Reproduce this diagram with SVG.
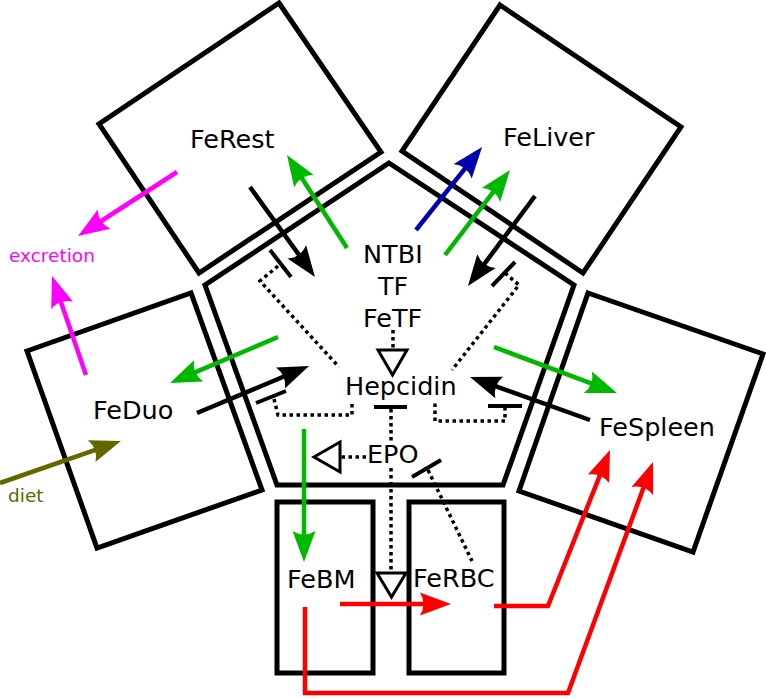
<svg xmlns="http://www.w3.org/2000/svg" width="766" height="699" viewBox="0 0 766 699">
<style>
.box{fill:none;stroke:#000;stroke-width:5;stroke-linejoin:miter}
.lbl{font-family:"DejaVu Sans",sans-serif;font-size:25.5px;fill:#000}
.small{font-family:"DejaVu Sans",sans-serif;font-size:18.5px}
.flow{fill:none;stroke-width:4.5}
.bk{stroke:#000}
.gr{stroke:#00b800}
.rd{stroke:#ff0000}
.mg{stroke:#ff00ff}
.bl{stroke:#0000b0}
.ol{stroke:#666600}
.dot{fill:none;stroke:#000;stroke-width:3.5;stroke-dasharray:3.5,3.5}
.bar{fill:none;stroke:#000;stroke-width:4}
.tri{fill:#fff;stroke:#000;stroke-width:3;stroke-linejoin:miter}
</style>
<defs>
<marker id="hk" markerUnits="userSpaceOnUse" viewBox="-32 -13 34 26" refX="-24" refY="0" markerWidth="34" markerHeight="26" orient="auto" overflow="visible"><path d="M0,0 L-31,-11.5 Q-24,0 -31,11.5 Z" fill="#000"/></marker>
<marker id="hg" markerUnits="userSpaceOnUse" viewBox="-32 -13 34 26" refX="-24" refY="0" markerWidth="34" markerHeight="26" orient="auto" overflow="visible"><path d="M0,0 L-31,-11.5 Q-24,0 -31,11.5 Z" fill="#00b800"/></marker>
<marker id="hr" markerUnits="userSpaceOnUse" viewBox="-32 -13 34 26" refX="-24" refY="0" markerWidth="34" markerHeight="26" orient="auto" overflow="visible"><path d="M0,0 L-31,-11.5 Q-24,0 -31,11.5 Z" fill="#ff0000"/></marker>
<marker id="hm" markerUnits="userSpaceOnUse" viewBox="-32 -13 34 26" refX="-24" refY="0" markerWidth="34" markerHeight="26" orient="auto" overflow="visible"><path d="M0,0 L-31,-11.5 Q-24,0 -31,11.5 Z" fill="#ff00ff"/></marker>
<marker id="hb" markerUnits="userSpaceOnUse" viewBox="-32 -13 34 26" refX="-24" refY="0" markerWidth="34" markerHeight="26" orient="auto" overflow="visible"><path d="M0,0 L-31,-11.5 Q-24,0 -31,11.5 Z" fill="#0000b0"/></marker>
<marker id="ho" markerUnits="userSpaceOnUse" viewBox="-32 -13 34 26" refX="-24" refY="0" markerWidth="34" markerHeight="26" orient="auto" overflow="visible"><path d="M0,0 L-31,-11.5 Q-24,0 -31,11.5 Z" fill="#666600"/></marker>
</defs>
<rect width="766" height="699" fill="#fff"/>

<g id="plasma">
<polygon class="box" points="389,163 574,285 503,485 277,485 205,285"/>
<text class="lbl" x="363" y="263">NTBI</text>
<text class="lbl" x="378" y="295">TF</text>
<text class="lbl" x="363" y="327">FeTF</text>
</g>
<g id="Hepcidin"><text class="lbl" x="345" y="395">Hepcidin</text></g>
<g id="EPO"><text class="lbl" x="367" y="463">EPO</text></g>
<g id="FeRest">
<polygon class="box" points="279,3 381,152 199,273 99,124"/>
<text class="lbl" x="190" y="148">FeRest</text>
</g>
<g id="FeLiver">
<polygon class="box" points="500,5 681,127 583,273 402,151"/>
<text class="lbl" x="503" y="146">FeLiver</text>
</g>
<g id="FeDuo">
<polygon class="box" points="27,351 191,293 262,490 97,548"/>
<text class="lbl" x="93" y="419">FeDuo</text>
</g>
<g id="FeSpleen">
<polygon class="box" points="588,293 763,354 693,552 519,491"/>
<text class="lbl" x="599" y="436">FeSpleen</text>
</g>
<g id="FeBM">
<rect class="box" x="277" y="502" width="96" height="171"/>
<text class="lbl" x="287" y="588">FeBM</text>
</g>
<g id="FeRBC">
<rect class="box" x="409" y="502" width="95" height="171"/>
<text class="lbl" x="413" y="587">FeRBC</text>
</g>
<g id="excretion"><text class="small" x="9" y="262" fill="#ff00ff">excretion</text></g>
<g id="diet"><text class="small" x="8" y="502" fill="#666600">diet</text></g>

<g id="connectors">
<path class="flow mg" d="M177,172 L98.2,223" marker-end="url(#hm)"/>
<path class="flow mg" d="M86,375 L59.8,298.7" marker-end="url(#hm)"/>
<path class="flow bk" d="M250,187 L300.9,257.5" marker-end="url(#hk)"/>
<path class="flow gr" d="M347,248 L300,175.2" marker-end="url(#hg)"/>
<path class="flow bl" d="M416,230 L467.1,165.8" marker-end="url(#hb)"/>
<path class="flow gr" d="M445,255 L495.4,189.1" marker-end="url(#hg)"/>
<path class="flow bk" d="M535,196 L482.3,266.7" marker-end="url(#hk)"/>
<path class="flow gr" d="M278,337 L192.1,373.6" marker-end="url(#hg)"/>
<path class="flow bk" d="M197,413 L286.9,375.3" marker-end="url(#hk)"/>
<path class="flow gr" d="M494,347 L594.5,384.6" marker-end="url(#hg)"/>
<path class="flow bk" d="M590,420 L492.6,385.1" marker-end="url(#hk)"/>
<path class="flow gr" d="M304,429 L304,538" marker-end="url(#hg)"/>
<path class="flow rd" d="M340,604 L427,604" marker-end="url(#hr)"/>
<path class="flow rd" d="M494,606 L548,606 L601.1,472.3" marker-end="url(#hr)"/>
<path class="flow rd" d="M305,607 L305,693 L568,693 L644.7,484.5" marker-end="url(#hr)"/>
<path class="flow ol" d="M0,483 L98.3,448.9" marker-end="url(#ho)"/>
<line class="bar" x1="270" y1="250" x2="291" y2="277"/>
<path class="dot" d="M278,266 L260,281 L339,367"/>
<line class="bar" x1="492" y1="286" x2="515" y2="262"/>
<path class="dot" d="M505,273 L519,285 L452,370"/>
<line class="bar" x1="256" y1="403" x2="286" y2="391"/>
<path class="dot" d="M274,399 L278,415 L352,415 L352,401"/>
<line class="bar" x1="488" y1="406" x2="522" y2="406"/>
<path class="dot" d="M505,407 L505,421 L435,421 L435,401"/>
<line class="bar" x1="374" y1="407" x2="407" y2="407"/>
<path class="dot" d="M391,409 L391,441"/>
<line class="bar" x1="412" y1="477" x2="441" y2="460"/>
<path class="dot" d="M428,470 L472,561"/>
<path class="dot" d="M393,330 L393,348"/>
<polygon class="tri" points="378,350 407,350 392.5,375"/>
<path class="dot" d="M391,468 L391,573"/>
<polygon class="tri" points="377,573 406,573 391.5,597"/>
<path class="dot" d="M366,457 L341,457"/>
<polygon class="tri" points="340,442 340,472 314,457"/>
</g>
</svg>
